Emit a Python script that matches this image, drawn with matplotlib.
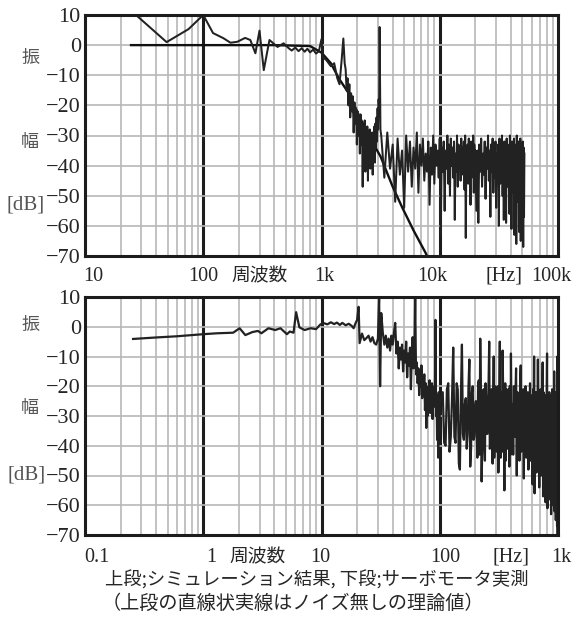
import matplotlib
matplotlib.use("Agg")
import matplotlib.pyplot as plt
import matplotlib.transforms as mtrans
from matplotlib.ticker import LogLocator, NullFormatter, FixedLocator
import numpy as np

# ---------------- data: upper panel (simulation) ----------------
theory_f = [24.5, 100, 400, 800, 1000, 1200, 1400, 1700, 2000, 2500, 3160, 4000, 4830, 6000, 7600, 7800]
theory_db = [0, 0, 0, -0.3, -2.5, -6, -11, -16, -22, -30, -37, -47, -54, -61.5, -69, -70]

sim_lo_f = [27, 49, 75, 100, 121, 148, 170, 194, 226, 250, 276, 299, 325, 363, 400,
            425, 478, 527, 560, 600, 640, 680, 720, 760, 800, 850, 900, 950, 1000, 1030,
            1100, 1200, 1280, 1360, 1420, 1480, 1530, 1570]
sim_lo_db = [10, 1, 5.3, 10, 4, 2.3, 0.8, 1.1, 2.4, 1.7, -2.7, 4.8, -8.3, 1.7, 0.3,
             -0.6, 0.6, -1, -1.8, -0.8, -2, -1, -2.2, -1.2, -2.4, -1.5, -2.8, -2, 2, -4,
             -5, -7, -6, -11, -13, -5, 2.2, -6]

sim_mid_f = [1600, 1630, 1660, 1690, 1720, 1750, 1780, 1810, 1840, 1870,
             1900, 1930, 1960, 1990, 2020, 2050, 2080, 2110, 2140, 2170,
             2200, 2230, 2260, 2290, 2320, 2350, 2380, 2410, 2440, 2470,
             2500, 2530, 2560, 2590, 2620, 2650, 2680, 2710, 2740, 2770,
             2800, 2830, 2860, 2890, 2920, 2950, 2980, 3010, 3040, 3070,
             3100, 3150]
sim_mid_db = [-8, -15, -11, -20, -13, -24, -16, -22, -17, -29,
              -19, -26, -21, -33, -22, -30, -24, -36, -23, -33,
              -26, -47, -27, -38, -25, -42, -29, -36, -27, -45,
              -30, -38, -28, -41, -31, -37, -29, -43, -30, -36,
              -27, -39, -26, -34, -24, -32, -21, -28, -18, -22,
              6, -28]

sim_noise_khz = [3.2, 3.4, 3.6, 3.8, 4.0, 4.2, 4.4, 4.6, 4.8, 5.0,
                 5.2, 5.4, 5.6, 5.8, 6.0, 6.2, 6.4, 6.6, 6.8, 7.0,
                 7.2, 7.4, 7.6, 7.8, 8.0, 8.2, 8.4, 8.6, 8.8, 9.0,
                 9.2, 9.4, 9.6, 9.8, 10.0, 10.2, 10.4, 10.6, 10.8, 11.0,
                 11.2, 11.4, 11.6, 11.8, 12.0, 12.2, 12.4, 12.6, 12.8, 13.0,
                 13.2, 13.4, 13.6, 13.8, 14.0, 14.2, 14.4, 14.6, 14.8, 15.0,
                 15.2, 15.4, 15.6, 15.8, 16.0, 16.2, 16.4, 16.6, 16.8, 17.0,
                 17.2, 17.4, 17.6, 17.8, 18.0, 18.2, 18.4, 18.6, 18.8, 19.0,
                 19.2, 19.4, 19.6, 19.8, 20.0,
                 20.4, 20.8, 21.2, 21.6, 22.0, 22.4, 22.8,
                 23.2, 23.6, 24.0, 24.4, 24.8, 25.2, 25.6, 26.0, 26.4, 26.8,
                 27.2, 27.6, 28.0, 28.4, 28.8, 29.2, 29.6, 30.0, 30.4, 30.8,
                 31.2, 31.6, 32.0, 32.4, 32.8, 33.2, 33.6, 34.0, 34.4, 34.8,
                 35.2, 35.6, 36.0, 36.4, 36.8, 37.2, 37.6, 38.0, 38.4, 38.8,
                 39.2, 39.6, 40.0, 40.4, 40.8, 41.2, 41.6, 42.0, 42.4, 42.8,
                 43.2, 43.6, 44.0, 44.4, 44.8, 45.2, 45.6, 46.0, 46.4, 46.8,
                 47.2, 47.6, 48.0, 48.4, 48.8, 49.2, 49.6, 50.0, 50.4, 50.8,
                 51.2, 51.6, 52.0]
sim_noise_db = [-30, -44, -29, -41, -33, -52, -31, -43, -35, -54,
                -30, -42, -32, -47, -34, -41, -29, -49, -33, -40,
                -31, -45, -36, -42, -32, -53, -34, -43, -30, -46,
                -33, -40, -35, -44, -31, -63, -34, -42, -32, -55,
                -35, -41, -30, -46, -33, -50, -31, -40, -34, -44,
                -32, -58, -36, -42, -30, -47, -33, -41, -35, -45,
                -31, -43, -34, -40, -32, -48, -30, -64, -35, -42,
                -33, -46, -31, -41, -36, -53, -32, -44, -34, -42,
                -30, -49, -33, -40, -35,
                -55, -35, -59, -33, -42, -31, -47,
                -36, -43, -32, -51, -34, -41, -30, -45, -35, -57,
                -33, -42, -31, -49, -34, -44, -32, -54, -36, -41,
                -33, -60, -31, -46, -35, -43, -30, -50, -34, -58,
                -32, -42, -36, -59, -31, -47, -33, -44, -35, -56,
                -30, -45, -34, -61, -32, -49, -36, -43, -31, -63,
                -33, -47, -35, -66, -30, -52, -34, -46, -32, -62,
                -36, -53, -31, -65, -33, -48, -35, -60, -32, -67,
                -34, -57, -36]

# ---------------- data: lower panel (servo motor measurement) ----------------
meas_lo_f = [0.255, 0.4, 0.6, 0.8, 1.0, 1.3, 1.79, 2.03, 2.27, 2.6,
             2.9, 3.1, 3.56, 4.06, 4.5, 5.1, 5.4, 5.8, 6.1, 6.5,
             7.2, 8.1, 9.0, 9.8, 10.5, 11.2, 12.0, 12.8, 13.5, 14.3,
             15.0, 16.0, 17.0, 18.0, 18.7, 19.4, 20.0, 20.6, 21.0, 22.0,
             23.0, 24.0, 25.0, 26.0, 27.0, 28.0, 29.0, 30.0, 30.7, 31.3, 32.0]
meas_lo_db = [-4.1, -3.6, -3.2, -2.8, -2.5, -2.2, -2.0, -0.5, -2.8, -1.8,
              -1.4, -2.2, -0.5, -1.1, -0.5, -2.5, -1.6, -2.0, 4.9, -0.2,
              -1.1, -0.5, -0.8, 0.8, 1.2, 0.8, 1.5, 0.9, 1.4, 0.6,
              1.3, 0.5, 1.0, 0.3, -0.5, 1.2, 2.3, 6.7, -5.5, -2.3,
              -4.5, -3.8, -3.0, -5.0, -3.5, -5.5, -6.0, -4.0, 9.5, -20.0, 4.6]

meas_mid_f = [33, 34, 35, 36, 37, 38, 39, 40, 41, 42,
              43, 44, 45, 46, 47, 48, 49, 50, 51, 52,
              53, 54, 55, 56, 57, 58, 59, 60, 61, 62,
              63, 64, 65, 66, 67, 68, 69, 70, 71, 72,
              73, 74, 75, 76, 77, 78, 79, 80, 81, 82,
              83, 84, 85, 86, 87, 88, 89, 90, 91, 92,
              93, 94, 95, 96, 97, 98, 99, 100]
meas_mid_db = [-2, -6, -3, -7, -4, -8, -3, -6, -2, 1.3,
               -9, -5, -14, -7, -11, -6, -15, -8, -12, -5,
               -17, -9, -13, -7, -21, -10, -3.5, -14, -11, 9.7,
               -16, -12, -19, -14, -23, -15, -20, -13, -24, -17,
               -22, -16, -28, -19, -34, -22, -30, -20, -26, -18,
               -29, -21, -25, -19, -31, -22, -27, -20, -24, 2.3,
               -30, -23, -38, -25, -44, -22, -36, -26]

meas_hi_f = [106, 112, 118, 124, 130, 136, 142, 148, 154, 160,
             166, 172, 178, 184, 190, 196, 202, 208, 214, 220,
             226, 232, 238, 244, 250, 256, 262, 268, 274, 280,
             286, 292, 298, 304, 310, 316, 322, 328, 334, 340,
             346, 352, 358, 364, 370, 376, 382, 388, 394, 400,
             406, 412, 418, 424, 430, 436, 442, 448, 454, 460,
             466, 472, 478, 484, 490, 496, 502, 508, 514, 520,
             526, 532, 538, 544, 550, 556, 562, 568, 574, 580,
             586, 592, 598, 604, 610, 616, 622, 628, 634, 640,
             646, 652, 658, 664, 670, 676, 682, 688, 694, 700,
             706, 712, 718, 724, 730, 736, 742, 748, 754, 760,
             766, 772, 778, 784, 790, 796, 802, 808, 814, 820,
             826, 832, 838, 844, 850, 856, 862, 868, 874, 880,
             886, 892, 898, 904, 910, 916, 922, 928, 934, 940,
             946, 952, 958, 964, 970, 976, 982, 988, 994, 1000]
meas_hi_db = [-22, -40, -19, -37, -7, -39, -21, -48, -6, -38,
              -24, -36, -11, -41, -20, -37, -25, -44, -18, -4,
              -52, -23, -39, -19, -36, -26, -5, -40, -21, -46,
              -10, -37, -24, -42, -20, -38, -5, -44, -22, -8,
              -40, -55, -19, -38, -25, -41, -21, -47, -23, -9,
              -39, -26, -43, -20, -37, -24, -14, -50, -22, -40,
              -27, -45, -19, -13, -42, -25, -38, -21, -51, -24,
              -40, -20, -44, -26, -38, -22, -48, -25, -41, -19,
              -45, -27, -39, -23, -53, -21, -43, -10, -56, -24,
              -41, -22, -49, -26, -43, -11, -46, -23, -54, -25,
              -42, -21, -50, -27, -45, -24, -12, -57, -22, -48,
              -26, -44, -23, -59, -25, -47, -21, -9, -61, -24,
              -51, -27, -46, -22, -58, -26, -49, -23, -63, -25,
              -54, -21, -48, -27, -60, -24, -55, -15, -62, -26,
              -57, -22, -65, -28, -59, -24, -67, -10, -70, -26]

meas_fill_f = [109, 115, 121, 127, 133, 139, 145, 151, 157, 163,
               169, 175, 181, 187, 193, 199, 205, 211, 217, 223,
               229, 235, 241, 247, 253, 259, 265, 271, 277, 283,
               289, 295, 301, 307, 313, 319, 325, 331, 337, 343,
               349, 355, 361, 367, 373, 379, 385, 391, 397]
meas_fill_db = [-39, -21, -42, -24, -37, -19, -46, -23, -36, -26,
                -41, -20, -47, -22, -38, -27, -35, -19, -43, -24,
                -40, -21, -45, -25, -36, -18, -41, -23, -38, -26,
                -44, -20, -37, -24, -49, -22, -39, -27, -42, -19,
                -36, -25, -45, -21, -40, -26, -38, -20, -43]

y_ticks = [10, 0, -10, -20, -30, -40, -50, -60, -70]
y_ticklabels = ["10", "0", "\u221210", "\u221220", "\u221230", "\u221240", "\u221250", "\u221260", "\u221270"]

top_xlim = (10, 100000)
top_decades = [10, 100, 1000, 10000, 100000]
bot_xlim = (0.1, 1000)
bot_decades = [0.1, 1, 10, 100, 1000]

caption1 = "上段;シミュレーション結果, 下段;サーボモータ実測"
caption2 = "（上段の直線状実線はノイズ無しの理論値）"

# ---------------- figure ----------------
W, H = 573, 623
fig = plt.figure(figsize=(W / 100, H / 100), dpi=100)
fig.patch.set_facecolor("white")

SERIF = ["Liberation Serif", "DejaVu Serif"]
CJK = ["Noto Sans CJK JP", "DejaVu Sans"]
TXT = "#262626"
GRAY_TXT = "#555555"
GRID = "#b8b8b8"
DARK = "#1c1c1c"


def make_axes(top, bottom):
    return fig.add_axes([85 / W, 1 - bottom / H, (558 - 85) / W, (bottom - top) / H])


ax1 = make_axes(15, 256)
ax2 = make_axes(297, 535)


def style(ax, xlim, decades):
    ax.set_xscale("log")
    ax.set_xlim(*xlim)
    ax.set_ylim(-70, 10)
    ax.xaxis.set_major_locator(FixedLocator(decades))
    ax.xaxis.set_minor_locator(LogLocator(base=10, subs=range(2, 10), numticks=50))
    ax.xaxis.set_major_formatter(NullFormatter())
    ax.xaxis.set_minor_formatter(NullFormatter())
    ax.set_yticks(y_ticks)
    ax.set_yticklabels(y_ticklabels, fontfamily=SERIF, fontsize=16, color=TXT)
    ax.tick_params(axis="both", which="both", length=0)
    ax.tick_params(axis="y", pad=3)
    ax.grid(which="minor", axis="x", color=GRID, lw=1.2, zorder=0)
    ax.grid(which="major", axis="y", color=GRID, lw=1.2, zorder=0)
    for d in decades[1:-1]:
        ax.axvline(d, color=DARK, lw=2.2, zorder=1)
    for s in ax.spines.values():
        s.set_linewidth(2.2)
        s.set_color(DARK)
        s.set_zorder(5)


style(ax1, top_xlim, top_decades)
style(ax2, bot_xlim, bot_decades)

# upper panel lines
ax1.plot(theory_f, theory_db, color="#111111", lw=1.7, zorder=3)
sim_f = list(sim_lo_f) + list(sim_mid_f) + [k * 1000 for k in sim_noise_khz]
sim_db = list(sim_lo_db) + list(sim_mid_db) + list(sim_noise_db)
ax1.plot(sim_f, sim_db, color="#222222", lw=1.45, zorder=4)

# lower panel line (merge the interleaved samples in frequency order)
meas_f = np.array(list(meas_lo_f) + list(meas_mid_f) + list(meas_hi_f) + list(meas_fill_f))
meas_db = np.array(list(meas_lo_db) + list(meas_mid_db) + list(meas_hi_db) + list(meas_fill_db))
order = np.argsort(meas_f, kind="stable")
ax2.plot(meas_f[order], meas_db[order], color="#222222", lw=1.6, zorder=4)


def xlabel(ax, x, text, dx, dy, fam=SERIF, size=14.5, ha="center"):
    tr = mtrans.blended_transform_factory(ax.transData, ax.transAxes)
    ax.annotate(text, xy=(x, 0), xycoords=tr, xytext=(dx, -dy),
                textcoords="offset pixels", ha=ha, va="center",
                fontfamily=fam, fontsize=size, color=TXT, annotation_clip=False)


# upper x labels
xlabel(ax1, 10, "10", -2, 20, ha="left")
xlabel(ax1, 100, "100", 0, 20)
xlabel(ax1, 100, "周波数", 56, 20, fam=CJK, size=13.5)
xlabel(ax1, 1000, "1k", 3, 20)
xlabel(ax1, 10000, "10k", -7, 20)
xlabel(ax1, 10000, "[Hz]", 64, 20)
xlabel(ax1, 100000, "100k", -7, 20)

# lower x labels
xlabel(ax2, 0.1, "0.1", -1, 22, ha="left")
xlabel(ax2, 1, "1", 8, 22)
xlabel(ax2, 1, "周波数", 54, 22, fam=CJK, size=13.5)
xlabel(ax2, 10, "10", -1, 22)
xlabel(ax2, 100, "100", 6, 22)
xlabel(ax2, 100, "[Hz]", 71, 22)
xlabel(ax2, 1000, "1k", 3, 22)


def side(x, y, text, fam, size):
    fig.text(x / W, 1 - y / H, text, ha="center", va="center",
             fontfamily=fam, fontsize=size, color=GRAY_TXT)


side(31, 58, "振", CJK, 13)
side(30, 142, "幅", CJK, 13)
side(26, 205, "[dB]", SERIF, 15)
side(30, 325, "振", CJK, 13)
side(30, 408, "幅", CJK, 13)
side(27, 475, "[dB]", SERIF, 15)

fig.text(317 / W, 1 - 580 / H, caption1, ha="center", va="center",
         fontfamily=CJK, fontsize=13.2, color=TXT)
fig.text(293 / W, 1 - 603 / H, caption2, ha="center", va="center",
         fontfamily=CJK, fontsize=13.8, color=TXT)

fig.savefig("out.png", dpi=100, facecolor="white")
